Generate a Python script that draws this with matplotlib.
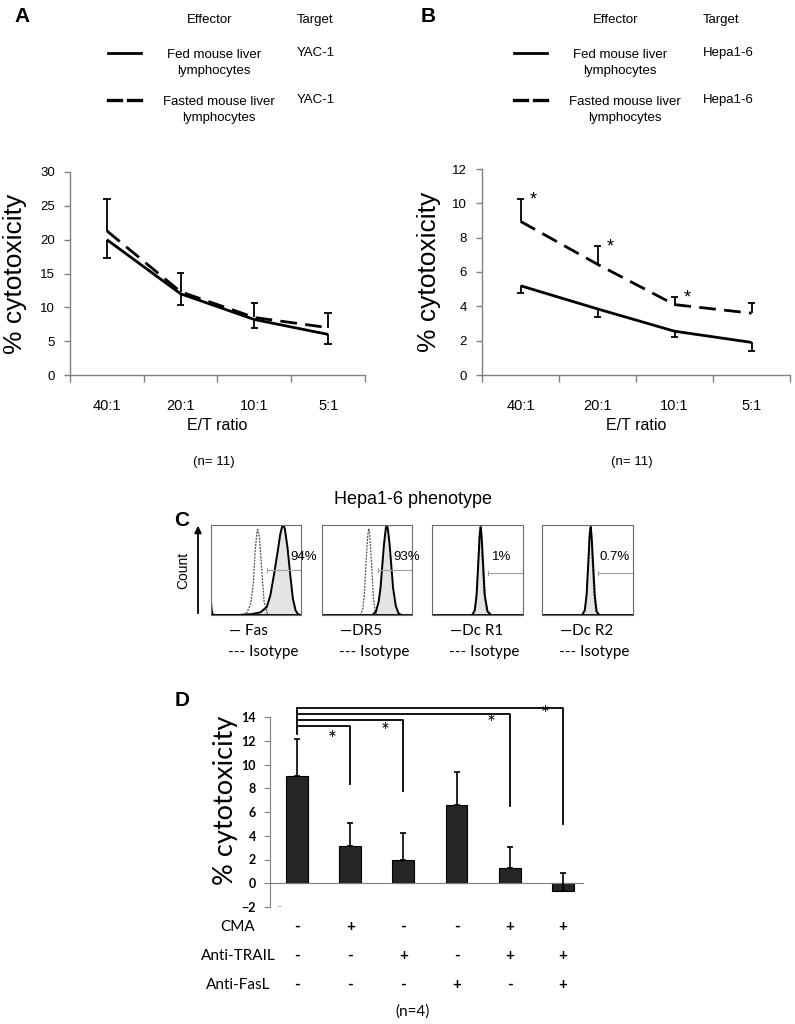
import numpy as np
import matplotlib
matplotlib.use('Agg')
import matplotlib.pyplot as plt
from matplotlib.lines import Line2D
import matplotlib.transforms as mtrans

# ---- data ----
ratios = ['40:1', '20:1', '10:1', '5:1']

# A: YAC-1 targets
yac_fed = [20.0, 12.0, 8.2, 6.0]
yac_fed_lo = [17.3, 10.4, 7.0, 4.6]
yac_fast = [21.3, 12.3, 8.5, 7.0]
yac_fast_hi = [26.0, 15.1, 10.6, 9.1]

# B: Hepa1-6 targets
hepa_fed = [5.2, 3.85, 2.55, 1.9]
hepa_fed_lo = [4.75, 3.4, 2.2, 1.4]
hepa_fast = [8.95, 6.45, 4.1, 3.6]
hepa_fast_hi = [10.25, 7.5, 4.55, 4.2]
hepa_sig = [True, True, True, False]

# C: Hepa1-6 phenotype histograms (x, y in % of box)
markers = ['Fas', 'DR5', 'Dc R1', 'Dc R2']
marker_pct = ['94%', '93%', '1%', '0.7%']
iso_x = [[36, 40, 44, 47, 49, 51, 52, 54, 56, 59, 63],
         [42, 45, 47, 49, 51, 52, 53, 55, 57, 59, 61],
         [44, 47, 49, 51, 52, 53, 54, 55, 57, 60, 64],
         [44, 47, 49, 51, 52, 53, 54, 55, 57, 59, 62]]
iso_y = [[0, 3, 12, 35, 70, 92, 95, 85, 55, 15, 0],
         [0, 5, 22, 60, 90, 96, 90, 58, 20, 4, 0],
         [0, 6, 25, 65, 90, 97, 90, 65, 25, 5, 0],
         [0, 6, 25, 65, 90, 96, 90, 65, 25, 5, 0]]
stain_x = [[0, 0.5, 1.5, 4, 30, 45, 55, 62, 66, 70, 74, 77, 79, 80.5, 82, 85, 88, 91, 94, 97, 100],
           [56, 60, 63, 65, 67, 69, 71, 72, 73, 75, 77, 79, 82, 85, 88],
           [44, 47, 49, 51, 52.5, 53.5, 54.5, 56, 58, 61, 65],
           [44, 47, 49, 51, 52.5, 53.5, 54.5, 56, 58, 60, 63]]
stain_y = [[15, 8, 1, 0, 0, 1, 3, 9, 22, 45, 70, 90, 98, 100, 96, 75, 45, 18, 5, 0.5, 0],
           [0, 4, 15, 30, 55, 80, 97, 100, 97, 80, 55, 30, 10, 2, 0],
           [0, 5, 22, 60, 90, 98, 88, 60, 22, 4, 0],
           [0, 5, 22, 60, 90, 98, 88, 60, 22, 4, 0]]

# D: blocking experiment
treat_mean = [9.0, 3.1, 2.0, 6.55, 1.3, -0.65]
treat_err = [3.15, 1.95, 2.2, 2.85, 1.75, 1.5]
cma = ['-', '+', '-', '-', '+', '+']
anti_trail = ['-', '-', '+', '-', '+', '+']
anti_fasl = ['-', '-', '-', '+', '-', '+']
sig_vs_ctrl = [1, 2, 4, 5]

W, H = 795, 1024
fig = plt.figure(figsize=(W / 100, H / 100), dpi=100)

ARIAL = ['Liberation Sans', 'DejaVu Sans']
CALIB = ['Lato', 'DejaVu Sans']
GREY = '#808080'


def px_axes(l, t, r, b):
    return fig.add_axes([l / W, 1 - b / H, (r - l) / W, (b - t) / H])


def ftext(x, y, s, **kw):
    fig.text(x / W, 1 - y / H, s, **kw)


def fline(x0, x1, y, **kw):
    fig.add_artist(Line2D([x0 / W, x1 / W], [1 - y / H] * 2, **kw))


def line_panel(box, ymax, ystep, fed, fed_lo, fast, fast_hi, target, legx, ylab_x, sig=None):
    l, t, r, b = box
    ax = px_axes(l, t, r, b)
    x = np.arange(len(ratios))
    ax.plot(x, fed, color='black', lw=2, solid_capstyle='butt')
    ax.plot(x, fast, color='black', lw=2, ls=(0, (6, 3)))
    fed = np.array(fed); fast = np.array(fast)
    ax.vlines(x, fed_lo, fed, color='black', lw=1.3)
    ax.hlines(fed_lo, x - 0.05, x + 0.05, color='black', lw=1.3)
    ax.vlines(x, fast, fast_hi, color='black', lw=1.3)
    ax.hlines(fast_hi, x - 0.05, x + 0.05, color='black', lw=1.3)
    if sig is not None:
        for xi, s, hi in zip(x, sig, fast_hi):
            if s:
                ax.text(xi + 0.12, hi - 0.05, '*', fontsize=13, family=ARIAL,
                        ha='left', va='center')
    ax.set_xlim(-0.5, len(ratios) - 0.5)
    ax.set_ylim(0, ymax)
    ax.set_yticks(np.arange(0, ymax + 0.1, ystep))
    ax.set_xticks(np.arange(-0.5, len(ratios)), minor=False)
    ax.set_xticklabels([])
    ax.set_xticks(x, minor=True)
    ax.set_xticklabels(ratios, minor=True, fontsize=10.5, family=ARIAL)
    ax.tick_params(axis='x', which='minor', length=0, pad=17)
    ax.tick_params(axis='x', which='major', length=5, color=GREY, width=1)
    ax.tick_params(axis='y', length=4, color=GREY, width=1, labelsize=9.5, pad=7)
    for lab in ax.get_yticklabels():
        lab.set_family(ARIAL)
    for sp in ['top', 'right']:
        ax.spines[sp].set_visible(False)
    for sp in ['left', 'bottom']:
        ax.spines[sp].set_color(GREY)
        ax.spines[sp].set_linewidth(1)
    ax.set_ylabel('% cytotoxicity', fontsize=19, family=ARIAL)
    # label coords refer to the right-hand edge of the rotated label
    ax.yaxis.set_label_coords((ylab_x - l) / (r - l), 0.5)
    cx = (l + r) / 2
    ftext(cx, 426, 'E/T ratio', fontsize=11.5, family=ARIAL, ha='center', va='center')
    ftext(cx - 4, 462, '(n= 11)', fontsize=9.5, family=ARIAL, ha='center', va='center')
    # legend block
    fs = 9.5
    ftext(legx + 102, 20, 'Effector', fontsize=fs, family=ARIAL, ha='center', va='center')
    ftext(legx + 207, 20, 'Target', fontsize=fs, family=ARIAL, ha='center', va='center')
    fline(legx, legx + 33, 53, color='black', lw=2)
    fline(legx, legx + 13, 100, color='black', lw=2.4)
    fline(legx + 20, legx + 33, 100, color='black', lw=2.4)
    ftext(legx + 106, 63, 'Fed mouse liver\nlymphocytes', fontsize=fs, family=ARIAL,
          ha='center', va='center', linespacing=1.35)
    ftext(legx + 111, 110, 'Fasted mouse liver\nlymphocytes', fontsize=fs, family=ARIAL,
          ha='center', va='center', linespacing=1.35)
    ftext(legx + 189, 53, target, fontsize=fs, family=ARIAL, ha='left', va='center')
    ftext(legx + 189, 100, target, fontsize=fs, family=ARIAL, ha='left', va='center')
    return ax


line_panel((70, 172, 365, 375), 30, 5, yac_fed, yac_fed_lo, yac_fast, yac_fast_hi,
           'YAC-1', 108, 27)
line_panel((482, 169, 790, 375), 12, 2, hepa_fed, hepa_fed_lo, hepa_fast, hepa_fast_hi,
           'Hepa1-6', 514, 441, sig=hepa_sig)

ftext(22, 17, 'A', fontsize=15, weight='bold', family=ARIAL, ha='center', va='center')
ftext(428, 17, 'B', fontsize=15, weight='bold', family=ARIAL, ha='center', va='center')

# ---- C: phenotype histograms ----
ftext(182, 521, 'C', fontsize=15, weight='bold', family=ARIAL, ha='center', va='center')
ftext(413, 500, 'Hepa1-6 phenotype', fontsize=13, family=ARIAL, ha='center', va='center')
fig.add_artist(matplotlib.patches.FancyArrowPatch(
    (198 / W, 1 - 616 / H), (198 / W, 1 - 523 / H), transform=fig.transFigure,
    arrowstyle='-|>', mutation_scale=10, color='black', lw=1.3))
ftext(183, 570, 'Count', fontsize=10, family=ARIAL, rotation=90, ha='center', va='center')

boxes = [(211, 301), (322, 412), (432, 523), (542, 633)]
gate_y = [50, 50, 47, 47]
pct_pos = [(88, 'left'), (79, 'left'), (76, 'center'), (80, 'center')]
for i, (bl, br) in enumerate(boxes):
    ax = px_axes(bl, 525, br, 615)
    ax.fill_between(stain_x[i], stain_y[i], color='#e4e4e4', lw=0)
    ax.plot(iso_x[i], iso_y[i], color='#4a4a4a', lw=0.9, ls=(0, (1.5, 1)))
    ax.plot(stain_x[i], stain_y[i], color='black', lw=1.4)
    ax.plot([0, 100], [0, 0], color='black', lw=1.3)
    ax.plot([62, 100], [gate_y[i], gate_y[i]], color='#a0a0a0', lw=0.8)
    ax.plot([62, 62], [gate_y[i] - 2, gate_y[i] + 2], color='#a0a0a0', lw=0.8)
    px, ha = pct_pos[i]
    ax.text(px, 65, marker_pct[i], fontsize=9.5, family=ARIAL, ha=ha, va='center',
            clip_on=False)
    ax.set_xlim(0, 100)
    ax.set_ylim(0, 100)
    ax.set_xticks([])
    ax.set_yticks([])
    for sp in ax.spines.values():
        sp.set_color('#6a6a6a')
        sp.set_linewidth(0.8)
    lx = bl + 18
    ftext(lx, 631, '\u2014 ' + markers[i] if i == 0 else '\u2014' + markers[i],
          fontsize=11, family=CALIB, ha='left', va='center')
    ftext(lx - 1, 652, '--- Isotype', fontsize=11, family=CALIB, ha='left', va='center')

# ---- D: blocking bar chart ----
ftext(182, 700, 'D', fontsize=15, weight='bold', family=ARIAL, ha='center', va='center')
axd = px_axes(270, 717, 583, 907)
xd = np.arange(len(treat_mean))
axd.bar(xd, treat_mean, width=0.41, color='#262626', edgecolor='black', lw=0.8, zorder=2)
axd.errorbar(xd, treat_mean, yerr=[np.zeros(len(xd)), treat_err], fmt='none',
             ecolor='black', elinewidth=1.2, capsize=2.5, capthick=1.2, zorder=3)
axd.set_xlim(-0.51, 5.38)
axd.set_ylim(-2, 14)
axd.set_yticks(np.arange(-2, 15, 2))
axd.tick_params(axis='y', length=4, color=GREY, labelsize=9, pad=6)
for lab in axd.get_yticklabels():
    lab.set_family(CALIB)
    lab.set_weight('bold')
axd.set_xticks([])
for sp in ['top', 'right']:
    axd.spines[sp].set_visible(False)
axd.spines['bottom'].set_position(('data', 0))
axd.spines['bottom'].set_color(GREY)
axd.spines['left'].set_color(GREY)
axd.set_ylabel('% cytotoxicity', fontsize=19.5, family=CALIB)
axd.yaxis.set_label_coords((238 - 270) / (583 - 270), 0.56)
axd.text(-0.34, -1.9, '-', fontsize=7, color='#909090', ha='center', va='center')

# significance brackets against the control bar
bracket_ends = [8.4, 7.8, 6.5, 5.0]
for k, (j, yend) in enumerate(zip(sig_vs_ctrl, bracket_ends)):
    ytop = 13.25 + 0.5 * k
    axd.plot([0, j, j], [ytop, ytop, yend], color='black', lw=1.3, clip_on=False)
    axd.text(j - 0.34, ytop - 1.2 + 0.2 * k, '*', fontsize=15, family=CALIB,
             ha='center', va='center', clip_on=False)
axd.plot([0, 0], [12.6, 14.75], color='black', lw=1.3, clip_on=False)

tr = mtrans.blended_transform_factory(axd.transData, fig.transFigure)
rows = [('CMA', cma, 927), ('Anti-TRAIL', anti_trail, 956), ('Anti-FasL', anti_fasl, 985)]
for name, signs, y in rows:
    ftext(238, y, name, fontsize=11, family=CALIB, ha='center', va='center')
    for xi, s in zip(xd, signs):
        axd.text(xi, 1 - y / H, s, transform=tr, fontsize=11, weight='bold',
                 family=CALIB, ha='center', va='center')
ftext(413, 1012, '(n=4)', fontsize=11, family=CALIB, ha='center', va='center')

fig.savefig('out.png', dpi=100)
